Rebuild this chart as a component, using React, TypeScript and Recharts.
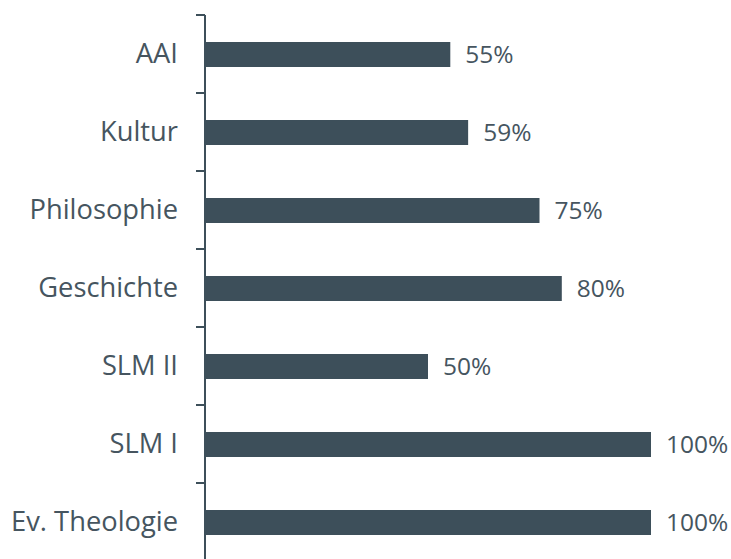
import React from 'react';
import { BarChart, Bar, XAxis, YAxis, LabelList } from 'recharts';

const categories = ['AAI', 'Kultur', 'Philosophie', 'Geschichte', 'SLM II', 'SLM I', 'Ev. Theologie'];
const shares = [55, 59, 75, 80, 50, 100, 100];

const data = categories.map((name, i) => ({ name, value: shares[i] }));

const BAR = '#3d4f5a';
const TEXT = '#46555f';
const BAND = 78;

function CategoryTick(props: any) {
  const { x, y, payload } = props;
  return (
    <g>
      <line x1={x - 9} x2={x} y1={y - BAND / 2} y2={y - BAND / 2} stroke={BAR} strokeWidth={2} />
      <text x={x - 27} y={y} dy={9} textAnchor="end" fill={TEXT} fontSize={27.3} fontFamily="Open Sans">
        {payload.value}
      </text>
    </g>
  );
}

export default function App() {
  return (
    <div style={{ position: 'absolute', left: 0, top: 0, width: 731, height: 559, overflow: 'hidden', background: '#fff' }}>
      <BarChart
        width={731}
        height={570}
        data={data}
        layout="vertical"
        margin={{ top: 15, right: 80, bottom: 9, left: 0 }}
      >
        <XAxis type="number" domain={[0, 100]} hide />
        <YAxis
          type="category"
          dataKey="name"
          width={205}
          tickLine={false}
          tickSize={0}
          tickMargin={0}
          axisLine={{ stroke: BAR, strokeWidth: 2 }}
          tick={<CategoryTick />}
          interval={0}
        />
        <Bar dataKey="value" fill={BAR} barSize={25} isAnimationActive={false}>
          <LabelList
            dataKey="value"
            position="right"
            offset={15}
            formatter={(v: any) => `${v}%`}
            style={{ fill: TEXT, fontSize: 24.5, fontFamily: 'Open Sans' }}
          />
        </Bar>
      </BarChart>
    </div>
  );
}
